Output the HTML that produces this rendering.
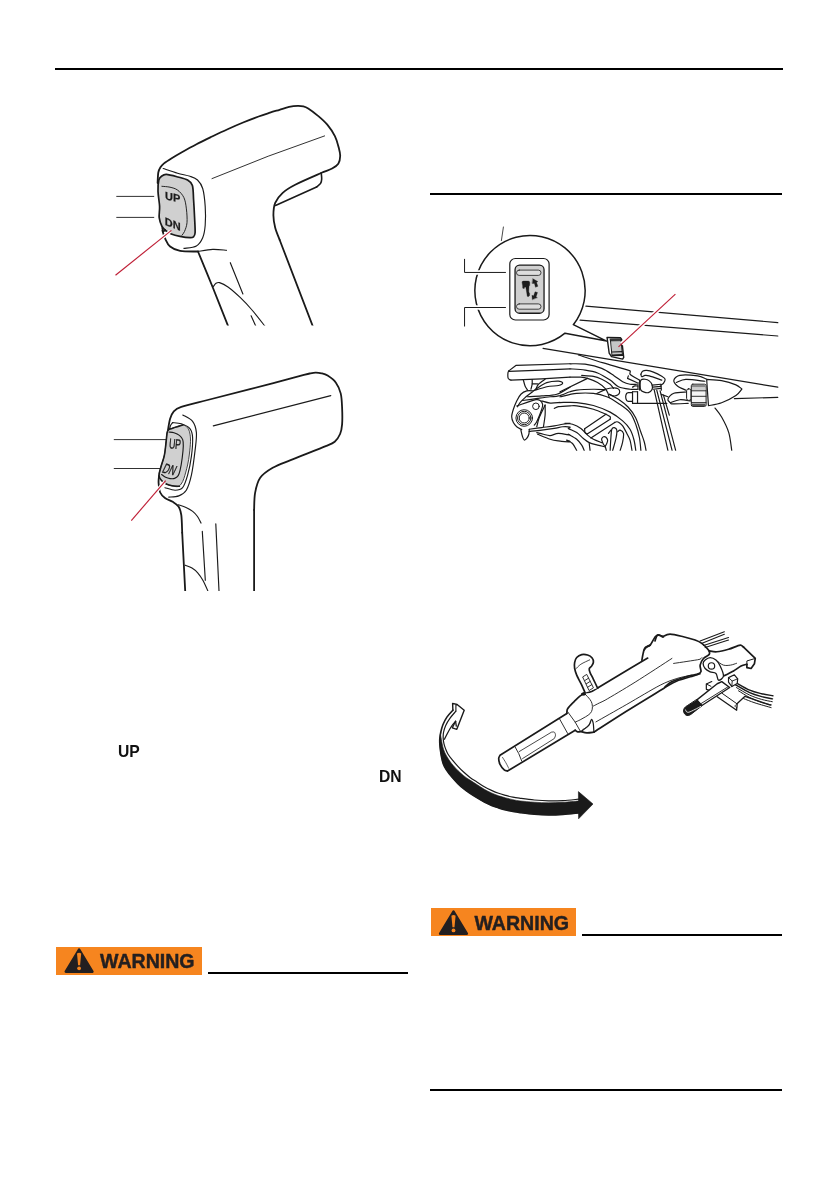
<!DOCTYPE html>
<html lang="en">
<head>
<meta charset="utf-8">
<title>Operation</title>
<style>
html,body{margin:0;padding:0;background:#fff;}
body{width:838px;height:1192px;position:relative;overflow:hidden;font-family:"Liberation Sans",sans-serif;color:#1a1a1a;}
.rule{position:absolute;background:#000;height:2px;}
.warn{position:absolute;width:146px;height:28px;line-height:0;}
.lbl{position:absolute;font-weight:bold;font-size:15.7px;line-height:16px;white-space:nowrap;color:#111;}
#art{position:absolute;left:0;top:0;}
.lbl,.warn,#art{will-change:transform;}
</style>
</head>
<body>
<div class="rule" style="left:55px;top:68px;width:728px;height:2px"></div>
<div class="rule" style="left:430px;top:193px;width:352px;"></div>
<svg id="art" width="838" height="1192" viewBox="0 0 838 1192">
<clipPath id="c1"><rect x="100" y="90" width="300" height="235.5"/></clipPath><clipPath id="c2"><rect x="100" y="360" width="300" height="231"/></clipPath>
<g id="fig1" stroke-linecap="round" stroke-linejoin="round" clip-path="url(#c1)">
<path d="M116.3,196.4 L154.2,196.4" fill="none" stroke="#1a1a1a" stroke-width="0.9" stroke-linecap="butt"/>
<path d="M116.3,217.4 L154.2,217.4" fill="none" stroke="#1a1a1a" stroke-width="0.9" stroke-linecap="butt"/>
<path d="M228.6,327.3 C226,320.75 218.1,300.63 213,288 C207.9,275.37 200.5,257.58 198,251.5" fill="none" stroke="#1a1a1a" stroke-width="1.8"/>
<path d="M198,251.5 C195.02,251.4 184.75,251.73 180.1,250.9 C175.8,250.13 172.6,248.57 170.1,246.5 C167.6,244.43 166.38,241.17 165.1,238.5 C163.82,235.83 162.85,231.83 162.4,230.5" fill="none" stroke="#1a1a1a" stroke-width="1.8"/>
<path d="M157.6,183 C157.72,181.25 157.85,175.08 158.3,172.5 C158.67,170.38 159.35,169.02 160.3,167.5 C161.25,165.98 162.29,164.8 164,163.4 C165.9,161.85 168.87,159.98 171.7,158.2 C174.53,156.42 177.24,154.82 181,152.7 C185.13,150.37 191.32,146.9 196.5,144.2 C201.68,141.5 206.92,139 212.1,136.5 C217.28,134 222.43,131.53 227.6,129.2 C232.77,126.87 237.93,124.62 243.1,122.5 C248.27,120.38 254.12,118.13 258.6,116.5 C263.08,114.87 266.52,113.82 270,112.7 C273.48,111.58 276.32,110.77 279.5,109.8 C282.68,108.83 286.07,107.57 289.1,106.9 C292.13,106.23 295.32,105.88 297.7,105.8 C299.99,105.72 301.65,105.95 303.4,106.4 C305.15,106.85 306.44,107.37 308.2,108.5 C310.58,110.03 314.52,112.9 317.7,115.6 C320.88,118.3 324.43,121.27 327.3,124.7 C330.17,128.13 333,132.4 334.9,136.2 C336.8,140 337.82,144.18 338.7,147.5 C339.58,150.82 340.27,153.4 340.2,156.1 C340.13,158.8 339.65,161.63 338.3,163.7 C336.95,165.77 334.85,167 332.1,168.5 C329.32,170.02 325.76,170.98 321.6,172.8 C315.45,175.5 301.68,181.37 295.2,184.7 C289.9,187.42 286.03,189.78 282.7,192.8 C279.37,195.82 276.75,199.05 275.2,202.8 C273.65,206.55 273.4,211.13 273.4,215.3 C273.4,219.47 274.15,223.68 275.2,227.8 C276.25,231.92 278.95,237.97 279.7,240" fill="none" stroke="#1a1a1a" stroke-width="1.8"/>
<path d="M279.7,240 L313.2,327.3" fill="none" stroke="#1a1a1a" stroke-width="1.8"/>
<path d="M321.2,172.8 C321.28,173.83 321.8,177.23 321.7,179 C321.6,180.77 321.45,182.08 320.6,183.4 C319.75,184.72 317.27,186.32 316.6,186.9" fill="none" stroke="#1a1a1a" stroke-width="1.6"/>
<path d="M316.6,186.9 L275.5,205.5" fill="none" stroke="#1a1a1a" stroke-width="1.6"/>
<path d="M212,178.6 Q268,155.2 324.6,135.9" fill="none" stroke="#1a1a1a" stroke-width="0.9"/>
<path d="M163.2,168.5 C165.6,169.28 173.13,171.9 177.6,173.2 C182.07,174.5 186.68,175.17 190,176.3 C193.17,177.38 195.38,177.97 197.5,180 C199.62,182.03 201.58,184.67 202.7,188.5 C203.98,192.9 204.78,200.28 205.2,206.4 C205.62,212.52 205.62,219.98 205.2,225.2 C204.79,230.28 204.17,234.25 202.7,237.7 C201.23,241.15 199.53,244.12 196.4,245.9 C193.27,247.68 185.98,247.98 183.9,248.4" fill="none" stroke="#1a1a1a" stroke-width="1.15"/>
<path d="M198,251.5 C200.45,251.15 207.95,249.6 212.7,249.4 C217.45,249.2 224.2,250.15 226.5,250.3" fill="none" stroke="#1a1a1a" stroke-width="1.15"/>
<path d="M230.3,262.7 L242.9,294" fill="none" stroke="#1a1a1a" stroke-width="1.15"/>
<path d="M213.3,286.5 C213.75,285.97 214.97,283.95 216,283.3 C217.03,282.65 218.14,282.18 219.5,282.6 C221.5,283.22 224.9,284.76 228,287 C231.48,289.52 236.4,293.87 240.4,297.7 C244.4,301.53 247.77,305.07 252,310 C256.23,314.93 263.5,324.42 265.8,327.3" fill="none" stroke="#1a1a1a" stroke-width="1.15"/>
<path d="M251.1,315.8 L256.3,327.3" fill="none" stroke="#1a1a1a" stroke-width="1.15"/>
<path d="M158.8,180 C159.22,178.18 160.25,177.13 161.5,176.2 C162.75,175.27 164.25,174.3 166.3,174.4 C169.05,174.53 174.45,176.05 178,177 C181.55,177.95 185.2,178.68 187.6,180.1 C190,181.52 191.57,182.73 192.4,185.5 C193.4,188.82 193.23,194.58 193.6,200 C193.97,205.42 194.35,212.55 194.6,218 C194.85,223.45 195.28,229.57 195.1,232.7 C195,234.46 194.33,235.97 193.5,236.8 C192.67,237.63 191.51,237.74 190.1,237.7 C187.85,237.63 183.13,237.02 180,236.4 C176.87,235.78 173.72,234.98 171.3,234 C168.88,233.02 167.05,231.75 165.5,230.5 C163.95,229.25 162.94,228.41 162,226.5 C160.95,224.37 159.6,221.05 159.2,217.7 C158.8,214.35 159.8,210.78 159.6,206.4 C159.4,202.02 158.13,195.8 158,191.4 C157.87,187 158.22,182.53 158.8,180Z" fill="#d0d0d0" stroke="#1a1a1a" stroke-width="1.7"/>
<path d="M161.9,186.3 C163.25,186.45 167.38,186.57 170,187.2 C172.62,187.83 175.28,188.37 177.6,190.1 C179.92,191.83 182.43,194.47 183.9,197.6 C185.37,200.73 185.88,204.72 186.4,208.9 C186.92,213.08 187.32,218.93 187,222.7 C186.69,226.35 185.33,229.42 184.5,231.5 C183.84,233.16 182.42,234.58 182,235.2" fill="none" stroke="#1a1a1a" stroke-width="0.95"/>
<path d="M162.2,228 C162.37,228.58 162.7,231.2 163.2,231.5 C163.7,231.8 164.87,230.08 165.2,229.8" fill="none" stroke="#1a1a1a" stroke-width="1.6"/>
<text transform="translate(172.6,197.0) skewY(13)" font-family="Liberation Sans, sans-serif" font-weight="bold" font-size="11" text-anchor="middle" dominant-baseline="central" fill="#1a1a1a" stroke="#1a1a1a" stroke-width="0.25">UP</text>
<text transform="translate(172.7,224.0) skewY(22)" font-family="Liberation Sans, sans-serif" font-weight="bold" font-size="11" text-anchor="middle" dominant-baseline="central" fill="#1a1a1a" stroke="#1a1a1a" stroke-width="0.25">DN</text>
<path d="M170.2,231.4 L117.5,273.6" fill="none" stroke="#fff" stroke-width="3.6" stroke-linecap="butt"/>
<path d="M171.4,230.4 L115.5,275.2" fill="none" stroke="#bf1f36" stroke-width="1.15" stroke-linecap="butt"/>
</g>
<g id="fig2" stroke-linecap="round" stroke-linejoin="round" clip-path="url(#c2)">
<path d="M113.8,439.6 L167,439.6" fill="none" stroke="#1a1a1a" stroke-width="0.9" stroke-linecap="butt"/>
<path d="M113.8,468.5 L160.8,468.5" fill="none" stroke="#1a1a1a" stroke-width="0.9" stroke-linecap="butt"/>
<path d="M168,430 C168.35,428.13 169.13,421.92 170.1,418.8 C171.07,415.68 171.93,413.28 173.8,411.3 C175.67,409.32 178,408 181.3,406.9 C186.93,405.02 197.07,402.71 207.6,400 C219.05,397.05 234.1,393.33 250,389.2 C265.9,385.07 293.05,377.82 303,375.2 C305.67,374.5 307.6,373.93 309.7,373.5 C311.8,373.07 313.63,372.63 315.6,372.6 C317.57,372.57 319.5,372.8 321.5,373.3 C323.5,373.8 325.42,374.17 327.6,375.6 C330,377.17 333.72,379.73 335.9,382.7 C338.08,385.67 339.67,389.23 340.7,393.4 C341.73,397.57 341.87,402.53 342.1,407.7 C342.33,412.87 342.43,420.02 342.1,424.4 C341.8,428.31 341.33,431.12 340.1,434 C338.87,436.88 336.98,439.72 334.7,441.7 C332.42,443.68 329.83,444.47 326.4,445.9 C319.05,448.97 299.55,456.45 290.6,460.1 C283.38,463.04 277.77,464.85 272.7,467.8 C267.63,470.75 263.13,473.63 260.2,477.8 C257.27,481.97 256.12,487.43 255.1,492.8 C254.08,498.17 254.27,507.13 254.1,510" fill="none" stroke="#1a1a1a" stroke-width="1.8"/>
<path d="M254.1,510 L254.1,593" fill="none" stroke="#1a1a1a" stroke-width="1.8"/>
<path d="M159,476 C158.93,477.17 158.4,480.25 158.6,483 C158.8,485.75 159.13,490 160.2,492.5 C161.27,495 162.92,496.45 165,498 C167.08,499.55 170.45,500.38 172.7,501.8 C174.95,503.22 177.07,504.3 178.5,506.5 C179.93,508.7 180.8,511.46 181.3,515 C181.92,519.37 182.05,529.75 182.2,532.7" fill="none" stroke="#1a1a1a" stroke-width="1.8"/>
<path d="M182.2,532.7 L185.3,593" fill="none" stroke="#1a1a1a" stroke-width="1.8"/>
<path d="M213.3,425.9 L330.8,395.6" fill="none" stroke="#1a1a1a" stroke-width="1.15"/>
<path d="M172.6,422.6 C174.05,422.8 178.38,422.77 181.3,423.8 C184.22,424.83 188.22,426.5 190.1,428.8 C191.98,431.1 192.43,433.94 192.6,437.6 C192.82,442.2 192.23,450.13 191.4,456.4 C190.57,462.67 189.07,469.98 187.6,475.2 C186.14,480.38 184.68,485.2 182.6,487.7 C180.58,490.13 178.03,490.2 175.1,490.2 C172.17,490.2 166.68,488.12 165,487.7" fill="none" stroke="#1a1a1a" stroke-width="1.15"/>
<path d="M182.8,415 C184.43,416.05 190.33,418.37 192.6,421.3 C194.87,424.23 195.99,427.85 196.4,432.6 C196.82,437.4 195.92,443.13 195.1,450.1 C194.27,457.2 192.87,468.52 191.4,475.2 C190.04,481.39 188.4,486.75 186.3,490.2 C184.34,493.42 181.72,494.75 178.8,495.9 C175.88,497.05 170.47,496.9 168.8,497.1" fill="none" stroke="#1a1a1a" stroke-width="1.15"/>
<path d="M172.6,422.6 C172.25,423.08 171.02,424.35 170.5,425.5 C169.98,426.65 169.67,428.83 169.5,429.5" fill="none" stroke="#1a1a1a" stroke-width="1.15"/>
<path d="M178.5,504.8 C179.75,505.25 183.63,506.4 186,507.5 C188.37,508.6 190.78,509.9 192.7,511.4 C194.62,512.9 196.12,514.55 197.5,516.5 C198.88,518.45 200.42,522 201,523.1" fill="none" stroke="#1a1a1a" stroke-width="1.15"/>
<path d="M202.3,531.4 L205.3,580.3" fill="none" stroke="#1a1a1a" stroke-width="1.15"/>
<path d="M215.8,523.9 L219.1,593" fill="none" stroke="#1a1a1a" stroke-width="1.15"/>
<path d="M185.2,565.2 C186.33,565.67 189.92,566.73 192,568 C194.08,569.27 195.87,570.72 197.7,572.8 C199.53,574.88 201.2,577.22 203,580.5 C204.85,583.87 207.83,590.92 208.8,593" fill="none" stroke="#1a1a1a" stroke-width="1.15"/>
<path d="M167.6,431 C168.5,429.16 170.1,429.15 172,428.4 C174.5,427.42 180.03,425.23 182.6,425.1 C184.76,424.99 186.2,426.28 187.4,427.6 C188.6,428.92 189.28,430.7 189.8,433 C190.32,435.3 190.56,438.03 190.5,441.4 C190.43,444.9 189.88,450.07 189.4,454 C188.92,457.93 188.52,460.92 187.6,465 C186.68,469.08 184.97,475.33 183.9,478.5 C183.12,480.82 182.25,482.65 181.2,484 C180.15,485.35 179.13,486.3 177.6,486.6 C176.07,486.9 173.88,486.23 172,485.8 C170.12,485.37 168.05,484.88 166.3,484 C164.55,483.12 162.72,481.92 161.5,480.5 C160.28,479.08 159.13,477.63 159,475.5 C158.87,473.37 159.88,470.79 160.7,467.7 C161.6,464.3 163.47,459.7 164.4,455.1 C165.33,450.5 165.77,444.12 166.3,440.1 C166.78,436.46 166.65,432.95 167.6,431Z" fill="#d0d0d0" stroke="#1a1a1a" stroke-width="0.8"/>
<path d="M179.5,486.3 C178.25,486.22 174.2,486.18 172,485.8 C169.8,485.42 168.05,484.88 166.3,484 C164.55,483.12 162.72,481.92 161.5,480.5 C160.28,479.08 159.13,477.63 159,475.5 C158.87,473.37 159.88,470.79 160.7,467.7 C161.6,464.3 163.47,459.7 164.4,455.1 C165.33,450.5 165.77,444.12 166.3,440.1 C166.78,436.46 166.65,432.95 167.6,431 C168.5,429.16 170.1,429.15 172,428.4 C174.5,427.42 180.83,425.65 182.6,425.1" fill="none" stroke="#1a1a1a" stroke-width="1.6"/>
<path d="M169,432 C169.83,432.13 172.27,432.23 174,432.8 C175.73,433.37 177.95,434.27 179.4,435.4 C180.85,436.53 182.05,437.83 182.7,439.6 C183.35,441.37 183.37,443.43 183.3,446 C183.22,449.07 182.73,453.97 182.2,458 C181.67,462.03 180.77,467.27 180.1,470.2 C179.59,472.43 179.12,474.23 178.2,475.6 C177.28,476.97 175.97,477.9 174.6,478.4 C173.23,478.9 171.5,478.78 170,478.6 C168.5,478.42 167,477.98 165.6,477.3 C164.2,476.62 162.27,474.97 161.6,474.5" fill="none" stroke="#1a1a1a" stroke-width="1.15"/>
<text transform="translate(175.1,443.4) rotate(5) scale(0.62,1)" font-family="Liberation Sans, sans-serif" font-size="14" text-anchor="middle" dominant-baseline="central" fill="#1a1a1a" stroke="#1a1a1a" stroke-width="0.35">UP</text>
<text transform="translate(169.6,469.4) rotate(14) skewX(-12) scale(0.64,1)" font-family="Liberation Sans, sans-serif" font-size="14" text-anchor="middle" dominant-baseline="central" fill="#1a1a1a" stroke="#1a1a1a" stroke-width="0.35">DN</text>
<path d="M164.7,481.8 L133,518.6" fill="none" stroke="#fff" stroke-width="3.6" stroke-linecap="butt"/>
<path d="M165.7,480.6 L131.3,520.6" fill="none" stroke="#bf1f36" stroke-width="1.15" stroke-linecap="butt"/>
</g>
<clipPath id="c3"><rect x="440" y="200" width="360" height="250.8"/></clipPath>
<g id="fig3" stroke-linecap="round" stroke-linejoin="round" clip-path="url(#c3)">
<path d="M585.9,306.2 L777.8,322.6" fill="none" stroke="#1a1a1a" stroke-width="1.2"/>
<path d="M580.1,320.1 L777.8,336" fill="none" stroke="#1a1a1a" stroke-width="1.2"/>
<path d="M543,348.3 L777.8,387.2" fill="none" stroke="#1a1a1a" stroke-width="1.2"/>
<path d="M734.4,398.7 L777.8,397.3" fill="none" stroke="#1a1a1a" stroke-width="1.2"/>
<path d="M503.4,227 L501.4,240.6" fill="none" stroke="#1a1a1a" stroke-width="0.8"/>
<path d="M570.01,363.77 L515.87,365.44 L508.77,370.87" fill="none" stroke="#1a1a1a" stroke-width="1.2"/>
<path d="M508.77,370.87 C508.63,371.22 508.01,372.06 507.94,372.96 C507.84,374.21 507.7,377.21 508.19,378.39 C508.67,379.56 510.42,379.78 510.86,380.06" fill="none" stroke="#1a1a1a" stroke-width="1.2"/>
<path d="M508.77,371.29 L541.77,370.04 L570.01,368.78" fill="none" stroke="#1a1a1a" stroke-width="1.2"/>
<path d="M510.86,380.06 L541.77,378.81 L570.01,377.14" fill="none" stroke="#1a1a1a" stroke-width="1.2"/>
<path d="M570.01,363.77 C572.52,363.84 579.77,363.42 585.06,364.19 C590.35,364.96 596.9,366.42 601.77,368.37 C606.64,370.32 610.82,373.66 614.3,375.89 C617.74,378.09 620.04,380.34 622.66,381.73 C625.28,383.12 627.67,383.82 630.01,384.24 C632.35,384.66 635.59,384.24 636.71,384.24" fill="none" stroke="#1a1a1a" stroke-width="1.2"/>
<path d="M570.01,368.78 C572.52,368.99 580.46,369.34 585.06,370.04 C589.66,370.74 593.41,371.29 597.59,372.96 C601.77,374.63 606.65,377.76 610.13,380.06 C613.61,382.36 615.17,385.22 618.48,386.75 C621.79,388.28 626.76,388.83 630.01,389.25 C633.16,389.65 636.63,389.25 637.96,389.25" fill="none" stroke="#1a1a1a" stroke-width="1.2"/>
<path d="M570.01,377.14 C571.82,377.14 577.96,376.93 580.89,377.14 C583.6,377.33 584.98,377.55 587.57,378.39 C590.35,379.29 594.67,380.9 597.59,382.57 C600.51,384.24 603.44,386.75 605.11,388.42 C606.49,389.8 606.92,391.06 607.62,392.59 C608.32,394.12 609.01,396.77 609.29,397.61" fill="none" stroke="#1a1a1a" stroke-width="1.2"/>
<path d="M578.38,355 C582.56,356.32 594.84,360.3 603.44,362.94 C612.05,365.58 625.58,368.99 630.01,370.87 C631.24,371.39 629.08,373.27 630.03,374.21 C631.56,375.74 637.68,379.08 639.21,380.06" fill="none" stroke="#1a1a1a" stroke-width="1.2"/>
<path d="M581.72,375.47 C583.67,375.61 590.08,375.67 593.42,376.3 C596.76,376.93 598.99,377.91 601.77,379.23 C604.55,380.55 608.18,382.71 610.13,384.24 C611.81,385.56 612.91,387.72 613.47,388.42" fill="none" stroke="#1a1a1a" stroke-width="1.2"/>
<path d="M587.57,378.39 L560,391.76" fill="none" stroke="#1a1a1a" stroke-width="1.2"/>
<path d="M628.35,375.89 L627.52,378.39 L636.71,382.57" fill="none" stroke="#1a1a1a" stroke-width="1.2"/>
<path d="M632.53,387.16 C632.95,386.95 634.13,386.09 635.04,385.91 C635.94,385.73 637.47,386.05 637.96,386.08" fill="none" stroke="#1a1a1a" stroke-width="1.2"/>
<path d="M637.96,382.57 L637.96,389.25" fill="none" stroke="#1a1a1a" stroke-width="1.2"/>
<path d="M639.63,380.06 L639.63,390.09" fill="none" stroke="#1a1a1a" stroke-width="1.2"/>
<path d="M523.39,380.06 C523.67,381.04 524.36,384.24 525.06,385.91 C525.76,387.58 527.15,389.39 527.57,390.09" fill="none" stroke="#1a1a1a" stroke-width="1.2"/>
<path d="M532.16,379.64 C532.16,380.41 532.37,382.64 532.16,384.24 C531.95,385.84 531.12,388.42 530.91,389.25" fill="none" stroke="#1a1a1a" stroke-width="1.2"/>
<path d="M532.16,383.82 L537.59,383.82" fill="none" stroke="#1a1a1a" stroke-width="1.2"/>
<path d="M545.11,379.23 C544,380.06 539.96,382.57 538.43,384.24 C536.91,385.89 536.34,388.42 535.92,389.25" fill="none" stroke="#1a1a1a" stroke-width="1.2"/>
<path d="M533.42,390.92 C533.98,390.5 535.34,389.3 536.76,388.42 C538.99,387.03 543.16,383.8 546.78,382.57 C550.4,381.34 555.83,381 558.48,381.07 C560.32,381.12 562.66,382.25 562.66,382.99 C562.66,383.73 560.38,385.04 558.48,385.49 C555.83,386.12 550.96,385.85 546.78,386.75 C542.6,387.65 535.65,390.23 533.42,390.92" fill="none" stroke="#1a1a1a" stroke-width="1.2"/>
<path d="M533.42,390.92 C532.3,390.92 528.82,390.36 526.73,390.92 C524.64,391.48 522.56,392.59 520.89,394.26 C519.22,395.93 517.96,398.44 516.71,400.95 C515.46,403.46 514.21,406.66 513.37,409.3 C512.53,411.94 511.7,414.61 511.7,416.82 C511.7,419.03 512.53,420.92 513.37,422.58 C514.21,424.24 515.32,425.58 516.71,426.76 C518.1,427.94 520.88,429.19 521.72,429.68" fill="none" stroke="#1a1a1a" stroke-width="1.2"/>
<path d="M532.58,391.76 C531.33,392.74 527.15,395.8 525.06,397.61 C522.97,399.42 521.3,401.09 520.05,402.62 C518.81,404.13 517.96,406.1 517.54,406.8" fill="none" stroke="#1a1a1a" stroke-width="1.2"/>
<path d="M527.57,396.77 C529.94,396.63 536.9,396.36 541.77,395.94 C546.64,395.52 552.1,395.72 556.81,394.26 C561.52,392.8 567.81,388.34 570.01,387.16" fill="none" stroke="#1a1a1a" stroke-width="1.2"/>
<path d="M522.56,400.53 C525.06,400.18 533,399.07 537.59,398.44 C542.19,397.81 546.65,397.19 550.13,396.77 C553.46,396.37 555.23,396.76 558.48,395.94 C561.79,395.11 566.97,392.74 570.01,391.76 C572.64,390.92 573.96,390.38 576.71,390.09 C580.61,389.67 588.69,389.32 593.42,389.25 C598.1,389.18 603.16,389.6 605.11,389.67" fill="none" stroke="#1a1a1a" stroke-width="1.2"/>
<path d="M605.11,389.67 L596.76,393.43" fill="none" stroke="#1a1a1a" stroke-width="1.2"/>
<path d="M605.11,389.25 C606.23,389.04 609.71,388.14 611.8,388 C613.89,387.86 616.32,387.79 617.64,388.42 C618.96,389.05 619.73,390.65 619.73,391.76 C619.73,392.87 618.68,394.4 617.64,395.1 C616.6,395.8 614.86,396.08 613.47,395.94 C612.08,395.8 609.99,394.54 609.29,394.26" fill="none" stroke="#1a1a1a" stroke-width="1.2"/>
<path d="M560,396.77 C562.78,396.21 571.14,393.99 576.71,393.43 C582.28,392.87 588.41,392.87 593.42,393.43 C598.43,393.99 602.6,395.1 606.78,396.77 C610.96,398.44 614.61,400.81 618.48,403.45 C622.35,406.09 627.08,409.01 630,412.6 C632.92,416.19 634.42,420.77 636,425 C637.58,429.23 638.67,433.5 639.5,438 C640.33,442.5 640.75,449.67 641,452" fill="none" stroke="#1a1a1a" stroke-width="1.2"/>
<path d="M609.29,394.26 C610.82,395.1 615.36,397.16 618.48,399.28 C621.6,401.4 625.16,403.96 628,407 C630.84,410.04 633.37,413.33 635.5,417.5 C637.63,421.67 639.33,427.92 640.8,432 C642.23,435.99 643.38,438.67 644.3,442 C645.22,445.33 645.97,450.33 646.3,452" fill="none" stroke="#1a1a1a" stroke-width="1.2"/>
<path d="M516.71,405.96 C519.91,404.92 532.02,400.61 535.92,399.7 C537.58,399.31 538.99,399.76 540.1,400.53 C541.22,401.29 542.33,402.83 542.61,404.29 C542.89,405.75 542.41,407.37 541.77,409.3 C540.79,412.22 538.01,419.2 536.76,421.83 C536.05,423.32 534.67,424.55 534.25,425.09" fill="none" stroke="#1a1a1a" stroke-width="1.2"/>
<path d="M545.11,405.04 C544.13,407.13 540.65,413.95 539.26,417.57 C537.89,421.13 537.18,425.23 536.76,426.76" fill="none" stroke="#1a1a1a" stroke-width="1.2"/>
<path d="M545.11,405.04 C545.11,406.71 545.39,411.44 545.11,415.06 C544.83,418.68 543.72,424.81 543.44,426.76" fill="none" stroke="#1a1a1a" stroke-width="1.2"/>
<circle cx="524.23" cy="417.99" r="8.3" fill="#fff" stroke="#1a1a1a" stroke-width="1"/>
<circle cx="524.23" cy="417.99" r="6.7" fill="#fff" stroke="#1a1a1a" stroke-width="1"/>
<circle cx="524.23" cy="417.99" r="5.0" fill="#fff" stroke="#1a1a1a" stroke-width="1"/>
<circle cx="535.92" cy="406.29" r="3.3" fill="none" stroke="#1a1a1a" stroke-width="1"/>
<path d="M554.3,408.38 C555,408.1 556.7,406.99 558.48,406.71 C561.1,406.29 566.97,406.01 570.01,405.87 C572.69,405.75 574.06,405.49 576.71,405.87 C580.61,406.43 588.55,407.82 593.42,409.21 C598.29,410.6 603.86,413.39 605.95,414.23" fill="none" stroke="#1a1a1a" stroke-width="1.2"/>
<path d="M541.77,400.95 C543.16,401.3 547.07,402.79 550.13,403.04 C553.19,403.29 558.5,402.53 560.15,402.45 C560.22,402.45 559.93,402.53 560,402.53 C562.76,402.54 571.14,402.04 576.71,402.53 C582.28,403.02 587.85,403.86 593.42,405.46 C598.99,407.06 605.26,409.56 610.13,412.14 C615,414.71 619.35,418.06 622.66,420.91 C625.97,423.76 628.12,426.08 630.01,429.26 C631.9,432.44 633,436.21 634,440 C635,443.79 635.67,450 636,452" fill="none" stroke="#1a1a1a" stroke-width="1.2"/>
<path d="M605.95,414.23 C606.65,414.65 609.43,415.9 610.13,416.73 C610.77,417.5 610.13,418.82 610.13,419.24" fill="none" stroke="#1a1a1a" stroke-width="1.2"/>
<path d="M610.13,419.24 L587.57,433.86" fill="none" stroke="#1a1a1a" stroke-width="1.2"/>
<path d="M587.57,433.86 C587.15,433.65 585.55,433.44 585.06,432.61 C584.57,431.78 584.71,429.48 584.64,428.85" fill="none" stroke="#1a1a1a" stroke-width="1.2"/>
<path d="M584.64,428.85 L605.95,414.23" fill="none" stroke="#1a1a1a" stroke-width="1.2"/>
<path d="M590.91,438.04 L614.72,422.41" fill="none" stroke="#1a1a1a" stroke-width="1.2"/>
<path d="M614.72,422.41 C615.07,422.3 616.04,421.69 616.81,421.75 C617.57,421.81 618.43,422.12 619.31,422.75 C620.28,423.44 621.6,424.41 622.66,425.92 C623.91,427.7 625.61,431.07 626.83,433.44 C628.06,435.81 629.16,437.29 630.01,440.13 C630.87,442.99 631.67,448.86 632,450.6" fill="none" stroke="#1a1a1a" stroke-width="1.2"/>
<path d="M520.89,430.1 C521.17,431.21 522,435.14 522.56,436.78 C523.02,438.14 523.53,439.68 524.23,439.96 C524.93,440.24 526,439.36 526.73,438.45 C527.5,437.5 528.4,435.81 528.82,434.28 C529.24,432.75 529.17,430.1 529.24,429.26" fill="none" stroke="#1a1a1a" stroke-width="1.2"/>
<path d="M529.24,429.26 C531.33,428.98 537.59,428.15 541.77,427.59 C545.95,427.03 550.82,426.48 554.3,425.92 C557.67,425.38 560.04,424.67 562.66,424.25 C565.28,423.83 569.62,423.56 570.01,423.42 C570.4,423.28 564.59,423.28 565.01,423.42 C565.43,423.56 569.88,423.42 572.53,424.25 C575.18,425.08 578.38,426.62 580.89,428.43 C583.4,430.24 585.48,433.3 587.57,435.11 C589.66,436.92 591.05,438.04 593.42,439.29 C595.79,440.54 600.38,442.07 601.77,442.63" fill="none" stroke="#1a1a1a" stroke-width="1.2"/>
<path d="M529.24,431.35 C531.33,431.14 537.59,430.59 541.77,430.1 C545.95,429.61 550.82,428.99 554.3,428.43 C557.67,427.89 560.04,426.97 562.66,426.76 C565.28,426.55 569.06,426.9 570.01,427.18 C570.81,427.41 567.7,427.91 568.35,428.43 C569.47,429.34 574.2,430.94 576.71,432.61 C579.22,434.28 581.3,436.78 583.39,438.45 C585.48,440.12 586.87,441.51 589.24,442.63 C591.61,443.75 594.95,444.44 597.59,445.14 C600.24,445.84 603.86,446.53 605.11,446.81" fill="none" stroke="#1a1a1a" stroke-width="1.2"/>
<path d="M536.76,432.61 C537.87,432.89 541.21,433.79 543.44,434.28 C545.67,434.77 547.62,435.67 550.13,435.53 C552.64,435.39 555.17,433.51 558.48,433.44 C561.79,433.37 568.37,434.97 570.01,435.11 C570.75,435.17 567.72,433.89 568.35,434.28 C569.47,434.98 574.48,437.48 576.71,439.29 C578.94,441.1 580.47,443.26 581.72,445.14 C582.97,447.02 583.81,449.66 584.23,450.57" fill="none" stroke="#1a1a1a" stroke-width="1.2"/>
<path d="M537.59,434.28 C539.68,435.12 546.65,438.18 550.13,439.29 C553.37,440.33 555.17,440.54 558.48,440.96 C561.79,441.38 568.64,441.94 570.01,441.8 C571.38,441.66 566.26,439.85 566.68,440.13 C567.1,440.41 570.86,441.73 572.53,443.47 C574.2,445.21 576.01,449.39 576.71,450.57" fill="none" stroke="#1a1a1a" stroke-width="1.2"/>
<path d="M589.24,443.47 L590.08,450.57" fill="none" stroke="#1a1a1a" stroke-width="1.2"/>
<path d="M610.13,450.57 C610.27,448.27 610.68,440.33 610.96,436.78 C611.2,433.76 611.24,430.79 611.8,429.26 C612.21,428.13 613.46,427.45 614.3,427.59 C615.13,427.73 616.59,428.7 616.81,430.1 C617.09,431.91 616.64,435.16 615.97,438.45 C615.27,441.86 613.19,448.55 612.63,450.57" fill="none" stroke="#1a1a1a" stroke-width="1.2"/>
<path d="M617.64,431.77 C618.06,431.49 619.17,429.82 620.15,430.1 C621.12,430.38 623.09,431.59 623.49,433.44 C623.91,435.39 623.22,438.94 622.66,441.8 C622.1,444.66 620.57,449.11 620.15,450.57" fill="none" stroke="#1a1a1a" stroke-width="1.2"/>
<path d="M601.77,438.45 C602.05,437.89 602.74,436.99 603.44,436.78 C604.14,436.57 605.25,436.64 605.95,437.2 C606.65,437.76 607.48,439.08 607.62,440.13 C607.76,441.18 607.2,442.5 606.78,443.47 C606.36,444.44 605.67,445.83 605.11,445.97 C604.55,446.11 603.91,445.12 603.44,444.3 C602.88,443.33 602.05,441.11 601.77,440.13 C601.59,439.48 601.49,439.01 601.77,438.45Z" fill="none" stroke="#1a1a1a" stroke-width="1.2"/>
<path d="M605.11,445.97 L606.37,450.57" fill="none" stroke="#1a1a1a" stroke-width="1.2"/>
<path d="M608.45,433.44 L610.96,430.1" fill="none" stroke="#1a1a1a" stroke-width="1.2"/>
<path d="M632.53,392.59 C631.83,392.59 629.33,392.45 628.35,392.59 C627.61,392.7 627.08,392.8 626.68,393.43 C626.23,394.13 625.68,395.59 625.68,396.77 C625.68,397.95 626.23,399.76 626.68,400.53 C627.06,401.18 627.61,401.26 628.35,401.37 C629.33,401.51 631.83,401.37 632.53,401.37" fill="none" stroke="#1a1a1a" stroke-width="1.2"/>
<path d="M632.53,391.76 L632.53,403.45" fill="none" stroke="#1a1a1a" stroke-width="1.2"/>
<path d="M637.54,391.76 L637.54,403.45" fill="none" stroke="#1a1a1a" stroke-width="1.2"/>
<path d="M632.53,391.76 L637.54,391.76" fill="none" stroke="#1a1a1a" stroke-width="1.2"/>
<path d="M632.53,403.45 L666.78,403.45" fill="none" stroke="#1a1a1a" stroke-width="1.2"/>
<path d="M640.89,374.21 C641.17,373.72 641.59,371.92 642.56,371.29 C643.53,370.67 645.03,370.33 646.73,370.46 C648.54,370.6 650.91,371.16 653.42,372.13 C655.93,373.1 659.82,375.12 661.77,376.3 C663.29,377.22 664.83,378.05 665.11,379.23 C665.39,380.41 664.13,382.42 663.44,383.4 C662.75,384.38 661.36,384.8 660.94,385.08" fill="none" stroke="#1a1a1a" stroke-width="1.2"/>
<path d="M640.89,374.21 C641.03,374.63 641.03,376.51 641.72,376.72 C642.41,376.93 643.81,375.61 645.06,375.47 C646.31,375.33 647.62,375.44 649.24,375.89 C652.02,376.65 659.68,379.37 661.77,380.06" fill="none" stroke="#1a1a1a" stroke-width="1.2"/>
<path d="M640.89,380.06 C641.73,379.09 643.67,379.09 645.06,379.23 C646.45,379.37 648.06,379.92 649.24,380.9 C650.42,381.88 651.74,383.55 652.16,385.08 C652.58,386.61 652.38,388.84 651.75,390.09 C651.12,391.34 649.65,392.24 648.4,392.59 C647.15,392.94 645.48,392.6 644.23,392.18 C642.98,391.76 641.59,391.27 640.89,390.09 C640.19,388.91 640.05,386.75 640.05,385.08 C640.05,383.41 640.05,381.03 640.89,380.06Z" fill="none" stroke="#1a1a1a" stroke-width="1.2"/>
<path d="M652.16,385.08 L660.94,384.24" fill="none" stroke="#1a1a1a" stroke-width="1.2"/>
<path d="M652.58,387.16 L660.94,386.33" fill="none" stroke="#1a1a1a" stroke-width="1.2"/>
<path d="M653,389.25 L660.94,388.42" fill="none" stroke="#1a1a1a" stroke-width="1.2"/>
<path d="M660.94,384.24 L661.35,390.09" fill="none" stroke="#1a1a1a" stroke-width="1.2"/>
<path d="M654.25,390.09 L667.9,450.47" fill="none" stroke="#1a1a1a" stroke-width="1.2"/>
<path d="M656.76,390.09 L672.08,450.47" fill="none" stroke="#1a1a1a" stroke-width="1.2"/>
<path d="M660.1,390.92 L675.66,450.47" fill="none" stroke="#1a1a1a" stroke-width="1.2"/>
<path d="M663.44,395.1 L669.29,415.15" fill="none" stroke="#1a1a1a" stroke-width="1.2"/>
<path d="M706.09,378.87 C704.7,378.37 701.25,376.36 697.73,375.88 C693.35,375.28 683.81,374.59 679.83,375.29 C676.82,375.82 674.27,378.27 673.87,380.06 C673.47,381.85 675.46,384.34 677.45,386.03 C679.44,387.72 684.41,389.5 685.8,390.2" fill="none" stroke="#1a1a1a" stroke-width="1.2"/>
<path d="M704.89,381.25 C701.71,380.95 690.57,379.26 685.8,379.46 C681.8,379.63 677.84,381.95 676.25,382.45" fill="none" stroke="#1a1a1a" stroke-width="1.2"/>
<path d="M686.99,391.99 C684.8,392.19 677.05,392 673.87,393.19 C670.71,394.37 668.5,397.56 667.9,399.15 C667.3,400.74 669.69,401.93 670.29,402.73 C670.7,403.27 670.8,403.91 671.48,403.93 C674.46,404.03 685.41,403.43 688.19,403.33" fill="none" stroke="#1a1a1a" stroke-width="1.2"/>
<path d="M670.29,402.73 C671.88,402.23 676.45,400.05 679.83,399.75 C683.21,399.45 688.78,400.74 690.57,400.94" fill="none" stroke="#1a1a1a" stroke-width="1.2"/>
<path d="M661.34,394.38 L667.9,396.77" fill="none" stroke="#1a1a1a" stroke-width="1.2"/>
<rect x="686.6" y="388.8" width="4.4" height="11.6" rx="2" fill="#fff" stroke="#1a1a1a" stroke-width="1"/>
<rect x="691.3" y="384.2" width="14.8" height="22.2" rx="1.5" fill="#f4f4f4" stroke="#1a1a1a" stroke-width="1"/>
<rect x="692" y="384.8" width="13.4" height="2.6" fill="#8a8a8a" stroke="none"/>
<rect x="692" y="403.6" width="13.4" height="2.4" fill="#555" stroke="none"/>
<rect x="692" y="387.6" width="13.4" height="2.6" fill="#cfcfcf" stroke="none"/>
<path d="M691.5,390.8 L706,390.8" fill="none" stroke="#1a1a1a" stroke-width="0.9"/>
<path d="M691.5,396.3 L706,396.3" fill="none" stroke="#1a1a1a" stroke-width="0.9"/>
<path d="M691.5,402.6 L706,402.6" fill="none" stroke="#1a1a1a" stroke-width="0.9"/>
<path d="M706.68,379.46 C709.17,379.66 716.73,379.77 721.6,380.66 C726.47,381.56 732.54,383.44 735.92,384.83 C738.62,385.94 740.89,388.31 741.89,389.01 L741.89,389.01 C740.89,390.1 738.86,393.58 735.92,395.57 C732.54,397.86 726.17,401.04 721.6,402.73 C717.03,404.42 710.66,405.22 708.47,405.72 Z" fill="#fff" stroke="#1a1a1a" stroke-width="1.2"/>
<path d="M715.04,408.1 C716.13,409.59 719.43,413.18 721.6,417.05 C723.89,421.13 727.07,427 728.76,432.57 C730.45,438.14 731.24,447.49 731.74,450.47" fill="none" stroke="#1a1a1a" stroke-width="1.2"/>
<path d="M606.6,341.1 L573.34,324.70 A55.15,55.15 0 1 0 565.03,333.19 Z" fill="#fff" stroke="#1a1a1a" stroke-width="1.5"/>
<path d="M469,272.45 L492,272.45" fill="none" stroke="#fff" stroke-width="4.4" stroke-linecap="butt"/>
<path d="M469,307.5 L492,307.5" fill="none" stroke="#fff" stroke-width="4.4" stroke-linecap="butt"/>
<path d="M464.55,258.9 L464.55,272.45 L505.9,272.45" fill="none" stroke="#1a1a1a" stroke-width="1" stroke-linecap="butt" stroke-linejoin="miter"/>
<path d="M464.55,326.5 L464.55,307.5 L505.9,307.5" fill="none" stroke="#1a1a1a" stroke-width="1" stroke-linecap="butt" stroke-linejoin="miter"/>
<rect x="509.8" y="258.5" width="39.3" height="61.5" rx="5.6" fill="#fff" stroke="#1a1a1a" stroke-width="1.2"/>
<rect x="515.05" y="265.05" width="29" height="48.2" rx="4.6" fill="#d0d0d0" stroke="#1a1a1a" stroke-width="1.3"/>
<rect x="516.5" y="270.1" width="24.5" height="5.3" rx="2.65" fill="#dedede" stroke="#1a1a1a" stroke-width="0.8"/>
<rect x="516.5" y="303.9" width="24.5" height="5.3" rx="2.65" fill="#dedede" stroke="#1a1a1a" stroke-width="0.8"/>
<path d="M522.16,281.85 C522.27,281.62 523.02,281.08 523.59,281.02 C524.16,280.96 528.44,281.06 528.96,281.17 C529.48,281.28 529.76,282.01 529.82,282.38 C529.88,282.75 529.75,285.28 529.68,285.61 C529.61,285.94 529.09,285.99 529.04,286.39 C528.97,286.93 528.84,291.46 528.89,292.05 C528.94,292.64 529.63,293.18 529.68,293.48 C529.73,293.78 529.62,295.37 529.5,295.63 C529.38,295.89 528.44,296.58 528.25,296.63 C528.06,296.68 527.36,296.53 527.24,296.27 C527.12,296.01 526.94,294.21 526.82,293.48 C526.7,292.75 525.98,288 525.81,287.47 C525.67,287.04 524.87,287.03 524.74,287.11 C524.62,287.19 524.47,288.31 524.31,288.4 C524.15,288.49 522.91,288.41 522.77,288.18 C522.63,287.95 522.63,285.97 522.59,285.61 C522.55,285.25 522.27,284.13 522.23,283.82 C522.19,283.51 522.05,282.08 522.16,281.85Z" fill="#1c1c1c" stroke="#1a1a1a" stroke-width="0.3"/>
<path d="M532.9,278.73 L537.91,281.6 L536.55,282.45 L537.91,286.32 L535.48,287.32 L534.41,283.53 L532.26,283.39Z" fill="#1c1c1c" stroke="#1a1a1a" stroke-width="0.3"/>
<path d="M532.26,299.5 L531.9,295.34 L533.62,295.7 L535.05,291.76 L537.56,292.48 L536.12,296.7 L537.2,297.49Z" fill="#1c1c1c" stroke="#1a1a1a" stroke-width="0.3"/>
<path d="M607.04,337.39 L620.42,337.61 L621.71,339.47 L623.72,357.37 L622.64,359.08 L611.47,356.65 L609.18,353.07Z" fill="#fff" stroke="#1a1a1a" stroke-width="1.4"/>
<path d="M610.76,339.47 L620.92,339.33 L622.43,354.65 L612.33,355.22Z" fill="#c6c6c6" stroke="#1a1a1a" stroke-width="1"/>
<path d="M610.33,338.75 L620.78,338.61 L621.21,340.76 L610.76,341.05Z" fill="#3a3a3a" stroke="#1a1a1a" stroke-width="0.5"/>
<path d="M612.05,352 L622.14,351.57" fill="none" stroke="#1a1a1a" stroke-width="1.2"/>
<path d="M612.19,355.5 L622.78,355.08" fill="none" stroke="#1a1a1a" stroke-width="1.7"/>
<path d="M621.5,344 L672.5,296.9" fill="none" stroke="#fff" stroke-width="4.2" stroke-linecap="butt"/>
<path d="M618.5,346.8 L675.4,294.2" fill="none" stroke="#bf1f36" stroke-width="1.15" stroke-linecap="butt"/>
</g>
<g id="fig4" stroke-linecap="round" stroke-linejoin="round">
<path d="M440.7,732.5 C440.55,733.5 439.95,736.6 439.8,738.5 C439.65,740.4 439.7,741.98 439.8,743.9 C439.9,745.82 440.13,747.92 440.4,750 C440.67,752.08 440.93,754.13 441.4,756.4 C441.87,758.67 442.4,761.42 443.2,763.6 C444,765.78 444.77,767.27 446.2,769.5 C447.65,771.75 449.95,774.75 451.9,777.1 C453.85,779.45 455.9,781.62 457.9,783.6 C459.9,785.58 461.88,787.38 463.9,789 C465.92,790.62 467.78,791.82 470,793.3 C472.22,794.78 474.82,796.45 477.2,797.9 C479.58,799.35 481.92,800.75 484.3,802 C486.68,803.25 489.12,804.42 491.5,805.4 C493.88,806.38 496.22,807.13 498.6,807.9 C500.98,808.67 503.42,809.4 505.8,810 C508.18,810.6 510.52,811.07 512.9,811.5 C515.28,811.93 517.21,812.24 520.1,812.6 C523.67,813.05 529.55,813.82 534.3,814.2 C539.05,814.58 543.82,814.87 548.6,814.9 C553.38,814.93 558.02,814.72 563,814.4 C567.98,814.08 575.92,813.23 578.5,813 L578.6,818.8 L593,804 L578.4,791.6 L578.5,801.0 L578.5,801 C575.92,801.22 567.98,802 563,802.3 C558.02,802.6 553.38,802.82 548.6,802.8 C543.82,802.78 539.05,802.52 534.3,802.2 C529.55,801.88 523.67,801.32 520.1,800.9 C517.2,800.56 515.28,800.2 512.9,799.7 C510.52,799.2 508.18,798.55 505.8,797.9 C503.42,797.25 500.98,796.63 498.6,795.8 C496.22,794.97 493.88,793.98 491.5,792.9 C489.12,791.82 486.68,790.67 484.3,789.3 C481.92,787.93 479.58,786.23 477.2,784.7 C474.82,783.17 472.22,781.57 470,780.1 C467.78,778.63 465.92,777.5 463.9,775.9 C461.88,774.3 459.9,772.5 457.9,770.5 C455.9,768.5 453.4,765.68 451.9,763.9 C450.59,762.34 449.88,761.28 448.9,759.8 C447.92,758.32 446.87,756.67 446,755 C445.13,753.33 444.33,751.65 443.7,749.8 C443.07,747.95 442.58,745.62 442.2,743.9 C441.82,742.18 441.67,740.98 441.4,739.5 C441.13,738.02 440.73,735.75 440.6,735 Z" fill="#1a1a1a" stroke="#1a1a1a" stroke-width="0.6"/>
<path d="M452.9,710.2 C451.9,711.35 448.57,714.67 446.9,717.1 C445.23,719.53 443.93,722.23 442.9,724.8 C441.87,727.37 441.22,730.22 440.7,732.5 C440.18,734.78 439.95,736.6 439.8,738.5 C439.65,740.4 439.7,741.98 439.8,743.9 C439.9,745.82 440.13,747.92 440.4,750 C440.67,752.08 440.93,754.13 441.4,756.4 C441.87,758.67 442.4,761.42 443.2,763.6 C444,765.78 444.77,767.27 446.2,769.5 C447.65,771.75 449.95,774.75 451.9,777.1 C453.85,779.45 455.9,781.62 457.9,783.6 C459.9,785.58 461.88,787.38 463.9,789 C465.92,790.62 467.78,791.82 470,793.3 C472.22,794.78 474.82,796.45 477.2,797.9 C479.58,799.35 481.92,800.75 484.3,802 C486.68,803.25 489.12,804.42 491.5,805.4 C493.88,806.38 496.22,807.13 498.6,807.9 C500.98,808.67 503.42,809.4 505.8,810 C508.18,810.6 510.52,811.07 512.9,811.5 C515.28,811.93 517.21,812.24 520.1,812.6 C523.67,813.05 529.55,813.82 534.3,814.2 C539.05,814.58 543.82,814.87 548.6,814.9 C553.38,814.93 558.02,814.72 563,814.4 C567.98,814.08 575.92,813.23 578.5,813" fill="none" stroke="#1a1a1a" stroke-width="1.6"/>
<path d="M578.5,799.2 C575.92,799.43 567.98,800.32 563,800.6 C558.02,800.88 553.38,801 548.6,800.9 C543.82,800.8 539.05,800.43 534.3,800 C529.55,799.57 523.67,798.77 520.1,798.3 C517.21,797.92 515.28,797.68 512.9,797.2 C510.52,796.72 508.18,796.05 505.8,795.4 C503.42,794.75 500.98,794.13 498.6,793.3 C496.22,792.47 493.88,791.48 491.5,790.4 C489.12,789.32 486.68,788.17 484.3,786.8 C481.92,785.43 479.58,783.77 477.2,782.2 C474.82,780.63 472.22,779.05 470,777.4 C467.78,775.75 465.92,774.15 463.9,772.3 C461.88,770.45 459.9,768.45 457.9,766.3 C455.9,764.15 453.57,761.45 451.9,759.4 C450.23,757.35 448.97,755.8 447.9,754 C446.83,752.2 446.15,750.28 445.5,748.6 C444.85,746.92 444.38,745.58 444,743.9 C443.62,742.22 443.28,740.4 443.2,738.5 C443.12,736.6 443.08,734.68 443.5,732.5 C443.92,730.32 444.63,727.77 445.7,725.4 C446.77,723.03 448.2,720.68 449.9,718.3 C451.6,715.92 454.9,712.3 455.9,711.1" fill="none" stroke="#1a1a1a" stroke-width="1.2"/>
<path d="M455.6,721.3 C454.95,722.08 453.05,724.02 451.7,726 C450.35,727.98 448.7,731 447.5,733.2 C446.3,735.4 445,738.2 444.5,739.2" fill="none" stroke="#1a1a1a" stroke-width="1.3"/>
<path d="M452.9,710.2 L452.6,703.4 L457.1,704.5 L464.2,710.2 L456.8,729.3 L452.3,727.8 L455.6,721.3" fill="none" stroke="#1a1a1a" stroke-width="1.4"/>
<path d="M457.1,704.5 L455.9,705.3 L455.9,711.1" fill="none" stroke="#1a1a1a" stroke-width="1.1"/>
<path d="M455.6,721.3 L456.3,726.2" fill="none" stroke="#1a1a1a" stroke-width="1.3"/>
<path d="M566.85,713.46 L500.02,755.22 L500.02,755.22 C499.8,755.78 498.69,757.12 498.69,758.56 C498.69,760.09 499.1,762.52 500.02,764.41 C500.94,766.3 502.95,768.81 504.2,769.92 C505.26,770.86 506.98,770.89 507.54,771.09 L575.2,730.16" fill="#fff" stroke="#1a1a1a" stroke-width="1.7"/>
<path d="M502.53,757.39 C503.09,758.28 504.84,760.93 505.87,762.74 C506.9,764.55 508.24,767.33 508.71,768.25" fill="none" stroke="#1a1a1a" stroke-width="0.7"/>
<path d="M515.06,746.87 L518.73,753.55 L521.74,761.07" fill="none" stroke="#1a1a1a" stroke-width="0.9"/>
<path d="M559.33,718.47 L567.68,733.5" fill="none" stroke="#1a1a1a" stroke-width="0.9"/>
<path d="M519.23,751.55 L551.48,732.17 L551.48,732.17 C551.95,732.17 553.65,731.67 554.32,732.17 C554.99,732.67 555.49,734.12 555.49,735.18 C555.49,736.24 554.52,737.96 554.32,738.52 L522.58,758.56" fill="none" stroke="#1a1a1a" stroke-width="0.8"/>
<path d="M566.85,713.46 C566.9,712.85 566.85,710.84 567.18,709.78 C567.51,708.72 568.03,708.07 568.85,707.11 C570.05,705.72 572.52,703.27 574.36,701.43 C576.2,699.59 578.54,697.19 579.88,696.08 C580.75,695.36 581.49,695.06 582.38,694.75 C583.27,694.44 584.75,694.33 585.22,694.25" fill="none" stroke="#1a1a1a" stroke-width="1.7"/>
<path d="M585.22,694.25 C586,695.11 588.76,697.84 589.9,699.43 C591.03,701.01 591.68,702.13 592.07,703.77 C592.46,705.41 592.55,707.66 592.24,709.28 C591.93,710.89 591.34,712.21 590.23,713.46 C589.12,714.71 587.23,715.74 585.56,716.8 C583.89,717.86 581.94,718.92 580.21,719.81 C578.48,720.7 576.04,721.76 575.2,722.15" fill="none" stroke="#1a1a1a" stroke-width="0.9"/>
<path d="M567.68,711.79 L575.2,722.15 L580.21,731" fill="none" stroke="#1a1a1a" stroke-width="0.9"/>
<path d="M575.2,730.16 C575.62,730.44 576.73,731.61 577.7,731.83 C578.68,732.05 580.49,731.56 581.05,731.5" fill="none" stroke="#1a1a1a" stroke-width="1.7"/>
<path d="M581.05,731.5 C581.88,730.86 584.67,728.86 586.06,727.66 C587.45,726.46 588.48,725.71 589.4,724.32 C590.32,722.93 590.93,719.45 591.57,719.31 C592.21,719.17 592.92,721.71 593.24,723.48 C593.63,725.62 593.8,730.72 593.91,732.17" fill="none" stroke="#1a1a1a" stroke-width="1.2"/>
<path d="M582.72,729.33 C583.56,728.91 586.39,728.02 587.73,726.82 C589.07,725.62 590.24,722.93 590.74,722.15" fill="none" stroke="#1a1a1a" stroke-width="0.7"/>
<path d="M581.05,731.5 C582.02,731.72 584.75,732.73 586.89,732.84 C589.03,732.95 592.74,732.28 593.91,732.17" fill="none" stroke="#1a1a1a" stroke-width="1.7"/>
<path d="M593.91,732.17 C599.39,728.65 615.21,718.33 626.82,711.05 C638.43,703.77 656.9,692.64 663.58,688.49 C664.97,687.63 665.5,686.95 666.92,686.15 C669.15,684.9 673.04,682.54 676.94,680.98 C680.84,679.42 686.46,678 690.3,676.8 C694.14,675.6 698.38,674.29 699.99,673.79" fill="none" stroke="#1a1a1a" stroke-width="1.7"/>
<path d="M597.59,688.04 L630.01,668.4 L647.7,658.09" fill="none" stroke="#1a1a1a" stroke-width="1.7"/>
<path d="M585.22,694.25 C584.64,694.26 581.75,694.57 581.72,694.3 C581.69,694.03 583.62,693.02 585.06,692.63 C586.59,692.21 588.82,692.56 590.91,691.8 C593,691.03 596.48,688.67 597.59,688.04" fill="none" stroke="#1a1a1a" stroke-width="1.7"/>
<path d="M593.41,706.03 C594.38,705.53 597.31,704 599.26,703.03 C601.21,702.06 602.86,701.5 605.11,700.19 C611.1,696.71 624.04,689.11 635.18,682.15 C646.32,675.19 665.8,662.38 671.93,658.42" fill="none" stroke="#1a1a1a" stroke-width="0.9"/>
<path d="M595.92,721.9 C601.07,718.98 616.1,710.49 626.82,704.36 C637.54,698.24 651.88,689.46 660.23,685.15 C666.63,681.85 671.65,680.14 676.94,678.47 C682.23,676.8 689.47,675.69 691.97,675.13" fill="none" stroke="#1a1a1a" stroke-width="0.9"/>
<path d="M585.06,692.63 C584.37,691.1 582.28,686.36 580.89,683.44 C579.5,680.52 577.75,677.6 576.71,675.09 C575.67,672.58 574.97,670.49 574.62,668.4 C574.27,666.31 574.27,664.37 574.62,662.56 C574.97,660.75 575.53,658.86 576.71,657.54 C577.89,656.22 579.91,655.04 581.72,654.62 C583.53,654.2 585.83,654.48 587.57,655.04 C589.31,655.6 591.18,656.78 592.16,657.96 C593.13,659.14 593.49,660.82 593.42,662.14 C593.35,663.46 592.45,664.79 591.75,665.9 C591.05,667.01 589.52,667.71 589.24,668.82 C588.96,669.93 589.51,671.15 590.08,672.58 C590.78,674.32 592.17,676.68 593.42,679.26 C594.67,681.84 596.89,686.58 597.59,688.04" fill="#fff" stroke="#1a1a1a" stroke-width="1.7"/>
<path d="M575.46,669.24 C576.37,668.4 578.52,665.79 580.89,664.23 C583.26,662.67 588.2,660.61 589.66,659.88" fill="none" stroke="#1a1a1a" stroke-width="0.8"/>
<path d="M582.97,676.76 L586.73,674.42 L593.42,687.79 L589.41,690.38Z" fill="none" stroke="#1a1a1a" stroke-width="0.9"/>
<path d="M584.78,680.57 L588.6,678.16" fill="none" stroke="#1a1a1a" stroke-width="0.9"/>
<path d="M586.32,683.84 L590.21,681.37" fill="none" stroke="#1a1a1a" stroke-width="0.9"/>
<path d="M587.86,687.11 L591.81,684.58" fill="none" stroke="#1a1a1a" stroke-width="0.9"/>
<path d="M641.86,660.09 C642.14,658.7 642.97,653.83 643.53,651.74 C643.99,650 644.09,648.67 645.2,647.56 C646.31,646.45 648.69,646.71 650.21,645.06 C651.88,643.25 653.83,638.38 655.22,636.71 C656.18,635.56 657.17,635.04 658.56,635.04 C659.95,635.04 662.92,636.43 663.58,636.71 C663.97,636.87 662.14,636.88 662.53,636.73 C663.61,636.32 666.88,634.22 670.05,634.22 C673.53,634.22 679.23,635.75 683.41,636.73 C687.59,637.71 692.05,638.96 695.11,640.07 C697.92,641.09 699.56,641.74 701.79,643.41 C704.02,645.08 707.22,648.28 708.47,650.09 C709.44,651.49 710.14,652.88 709.31,654.27 C708.47,655.66 704.99,656.64 703.46,658.45 C701.93,660.26 700.54,662.9 700.12,665.13 C699.7,667.36 701.51,670.28 700.95,671.81 C700.39,673.34 698.63,673.7 696.78,674.32 C694.69,675.02 691.69,675.01 688.42,675.99 C684.24,677.24 675.62,680.02 671.72,681.83 C668.69,683.24 666.15,686.01 665.04,686.85" fill="none" stroke="#1a1a1a" stroke-width="1.7"/>
<path d="M644.36,649.74 C644.78,649.24 645.89,647.51 646.87,646.73 C647.85,645.95 649.65,645.34 650.21,645.06" fill="none" stroke="#1a1a1a" stroke-width="1.7"/>
<path d="M655.01,640.91 C655.43,639.93 656.27,635.76 657.52,635.06 C658.77,634.36 661.69,636.45 662.53,636.73" fill="none" stroke="#1a1a1a" stroke-width="1.7"/>
<path d="M673.6,663.43 C675.83,663.1 682.56,662.12 686.96,661.43 C691.36,660.73 697.52,659.9 699.99,659.26 C700.94,659.02 701.49,657.88 701.79,657.61" fill="none" stroke="#1a1a1a" stroke-width="0.9"/>
<path d="M700.12,640.91 L724.34,631.72" fill="none" stroke="#1a1a1a" stroke-width="1.1"/>
<path d="M701.45,643.41 L724.34,634.22" fill="none" stroke="#1a1a1a" stroke-width="1.1"/>
<path d="M703.46,645.42 L728.52,637.56" fill="none" stroke="#1a1a1a" stroke-width="1.1"/>
<path d="M705.13,647.59 L728.52,640.07" fill="none" stroke="#1a1a1a" stroke-width="1.1"/>
<path d="M709.31,650.93 C710.56,651.07 713.81,652.02 716.82,651.76 C720.02,651.48 724.62,650.37 728.52,649.26 C732.42,648.15 737.71,645.44 740.21,645.08 C741.75,644.86 742.99,646.75 743.55,647.09" fill="none" stroke="#1a1a1a" stroke-width="1.7"/>
<path d="M743.55,647.09 L755.25,658.45 L754.41,663.79 L751.07,668.47 L746.89,667.63 L746.89,664.29" fill="none" stroke="#1a1a1a" stroke-width="1.7"/>
<path d="M755.25,658.45 L746.89,660.95 L746.89,664.29" fill="none" stroke="#1a1a1a" stroke-width="1"/>
<path d="M746.89,664.29 C745.92,664.57 743.22,664.87 741.05,665.96 C738.82,667.08 736.45,669.31 733.53,670.98 C730.61,672.65 725.87,675.43 723.5,675.99 C721.75,676.4 720.03,674.6 719.33,674.32" fill="none" stroke="#1a1a1a" stroke-width="1.7"/>
<path d="M716.8,660.9 C717.9,661.6 721.1,664.4 723.4,665.1 C725.7,665.8 728.42,665.4 730.6,665.1 C732.78,664.8 735.52,663.6 736.5,663.3" fill="none" stroke="#1a1a1a" stroke-width="0.9"/>
<path d="M705.13,660.12 C706.3,659.14 708.33,657.61 710.14,657.61 C711.95,657.61 714.32,658.73 715.99,660.12 C717.66,661.51 718.93,663.37 720.16,665.96 C721.41,668.61 723.78,673.62 723.5,675.99 C723.22,678.36 719.74,680.58 718.49,680.16 C717.24,679.74 717.38,674.87 715.99,673.48 C714.6,672.09 711.95,672.64 710.14,671.81 C708.33,670.97 706.3,669.86 705.13,668.47 C703.96,667.08 703.12,664.85 703.12,663.46 C703.12,662.07 703.96,661.1 705.13,660.12Z" fill="#fff" stroke="#1a1a1a" stroke-width="1.3"/>
<circle cx="711.48" cy="665.96" r="3.2" fill="#fff" stroke="#1a1a1a" stroke-width="1.2"/>
<path d="M711.76,681.5 L706.33,684.01 L706.33,689.36 L710.09,690.69" fill="none" stroke="#1a1a1a" stroke-width="1.2"/>
<path d="M706.33,684.01 L710.92,686.27" fill="none" stroke="#1a1a1a" stroke-width="1"/>
<path d="M717.19,696.71 L736.65,710.24 L736.99,703.81 L745.01,696.29 L770.3,705.2" fill="none" stroke="#1a1a1a" stroke-width="1.3"/>
<path d="M722.2,693.37 L736.99,703.81" fill="none" stroke="#1a1a1a" stroke-width="1"/>
<path d="M736.99,704.06 L734.48,706.07 L736.65,707.57Z" fill="#999" stroke="#1a1a1a" stroke-width="0.5"/>
<path d="M735.5,682.4 C737.87,683.68 745.35,688.22 749.7,690.1 C754.05,691.98 757.73,692.75 761.6,693.7 C765.47,694.65 771.02,695.45 772.9,695.8" fill="none" stroke="#1a1a1a" stroke-width="1.4"/>
<path d="M735.5,684.8 C737.87,686.1 745.35,690.63 749.7,692.6 C754.05,694.57 757.8,695.55 761.6,696.6 C765.4,697.65 770.68,698.52 772.5,698.9" fill="none" stroke="#1a1a1a" stroke-width="1.4"/>
<path d="M736.5,687.6 C738.7,688.85 745.52,693.13 749.7,695.1 C753.88,697.07 757.83,698.3 761.6,699.4 C765.37,700.5 770.52,701.32 772.3,701.7" fill="none" stroke="#1a1a1a" stroke-width="1"/>
<path d="M738.5,690.8 C740.42,691.95 746.15,695.77 750,697.7 C753.85,699.63 758.03,701.2 761.6,702.4 C765.17,703.6 769.77,704.48 771.4,704.9" fill="none" stroke="#1a1a1a" stroke-width="1"/>
<path d="M743.7,698.6 C745.58,699.32 750.43,701.4 755,702.9 C759.57,704.4 768.42,706.82 771.1,707.6" fill="none" stroke="#1a1a1a" stroke-width="1"/>
<path d="M696.89,699.88 L717.19,683.76 L721.78,681.67 L729.72,687.52 L701.9,705.48Z" fill="#fff" stroke="#1a1a1a" stroke-width="1.4"/>
<path d="M701.07,703.56 L728.47,686.52" fill="none" stroke="#1a1a1a" stroke-width="0.9"/>
<path d="M696.89,699.72 L702.07,705.73 L690.87,714.42 L690.87,714.42 C690.45,714.6 689.23,715.43 688.37,715.51 C687.51,715.59 686.44,715.41 685.69,714.92 C684.94,714.43 684.19,713.5 683.86,712.58 C683.53,711.66 683.43,710.36 683.69,709.41 C683.95,708.46 684.8,707.55 685.44,706.9 C686.08,706.25 687.18,705.72 687.53,705.48 Z" fill="#1a1a1a" stroke="#1a1a1a" stroke-width="1"/>
<path d="M685.61,709.91 C685.76,710.22 686,711.36 686.53,711.75 C687.06,712.14 687.89,712.49 688.78,712.25 C690.2,711.86 693.06,710.38 695.05,709.41 C697.04,708.43 699.78,706.9 700.73,706.4" fill="none" stroke="#f0f0f0" stroke-width="0.9"/>
<path d="M728.52,677.66 L734.36,674.82 L737.7,678.83 L737.2,683.5 L731.86,686.51 L728.52,682.17Z" fill="#fff" stroke="#1a1a1a" stroke-width="1.2"/>
<path d="M728.52,677.66 L732.19,681 L737.7,678.83" fill="none" stroke="#1a1a1a" stroke-width="0.9"/>
<path d="M732.19,681 L731.86,686.51" fill="none" stroke="#1a1a1a" stroke-width="0.9"/>
</g>
</svg>
<span class="lbl" style="left:117.6px;top:744.2px;">UP</span>
<span class="lbl" style="left:379.4px;top:768.6px;">DN</span>
<div class="warn" style="left:56px;top:947px;width:146px"><svg width="146" height="28" viewBox="0 0 146 28"><rect width="146" height="28" fill="#f6851f"/><g transform="translate(0.0,0.0)"><path d="M23.1,2.6 L36.4,24.6 L9.8,24.6 Z" fill="#231f20" stroke="#231f20" stroke-width="2.6" stroke-linejoin="round"/><path d="M21.0,6.6 Q23.1,5.0 25.2,6.6 L24.1,18.2 L22.1,18.2 Z" fill="#f6851f"/><circle cx="23.1" cy="21.3" r="1.9" fill="#f6851f"/><text x="44.0" y="21.4" font-family="Liberation Sans, sans-serif" font-weight="bold" font-size="19.6" fill="#231f20" stroke="#231f20" stroke-width="0.45" stroke-linejoin="round" textLength="94.6" lengthAdjust="spacingAndGlyphs">WARNING</text></g></svg></div>
<div class="rule" style="left:208px;top:972px;width:200px;"></div>
<div class="warn" style="left:431px;top:908px;width:145px"><svg width="145" height="28" viewBox="0 0 145 28"><rect width="145" height="28" fill="#f6851f"/><g transform="translate(-0.6,1.1)"><path d="M23.1,2.6 L36.4,24.6 L9.8,24.6 Z" fill="#231f20" stroke="#231f20" stroke-width="2.6" stroke-linejoin="round"/><path d="M21.0,6.6 Q23.1,5.0 25.2,6.6 L24.1,18.2 L22.1,18.2 Z" fill="#f6851f"/><circle cx="23.1" cy="21.3" r="1.9" fill="#f6851f"/><text x="44.0" y="21.4" font-family="Liberation Sans, sans-serif" font-weight="bold" font-size="19.6" fill="#231f20" stroke="#231f20" stroke-width="0.45" stroke-linejoin="round" textLength="94.6" lengthAdjust="spacingAndGlyphs">WARNING</text></g></svg></div>
<div class="rule" style="left:582px;top:933.5px;width:200px;"></div>
<div class="rule" style="left:430px;top:1089px;width:352px;"></div>
</body>
</html>
